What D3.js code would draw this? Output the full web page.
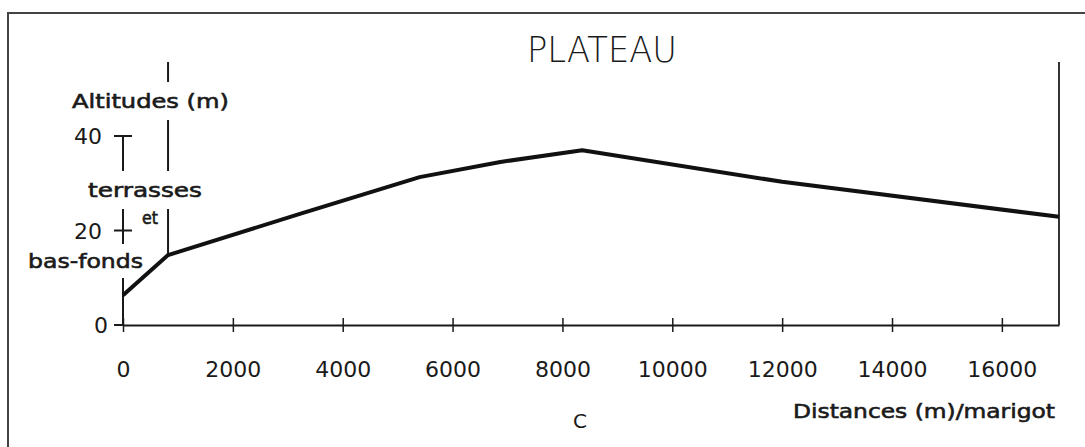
<!DOCTYPE html>
<html lang="fr">
<head>
<meta charset="UTF-8">
<title>Profil - Plateau</title>
<script src="https://cdn.jsdelivr.net/npm/d3@7"></script>
<style>
  body { margin: 0; background: #fff; }
  svg text { font-family: "DejaVu Sans", sans-serif; fill: #1a1a1a; }
  svg text.heavy { stroke: #1a1a1a; stroke-width: 0.6px; }
</style>
</head>
<body>
<svg id="chart" width="1085" height="447"></svg>
<script>
// profile: distance (m) / altitude (m)
var distances = [0, 820, 3220, 5400, 6870, 8360, 12000, 17040];
var altitudes = [6.3, 14.8, 23.5, 31.3, 34.5, 37.0, 30.3, 22.9];
var xTicks = [0, 2000, 4000, 6000, 8000, 10000, 12000, 14000, 16000];
var yTicks = [0, 20, 40];
var limitDistance = 820; // terrasses / plateau boundary
var title = "PLATEAU";
var yTitle = "Altitudes (m)";
var xTitle = "Distances (m)/marigot";
var panelLetter = "C";

var svg = d3.select("#chart");
var ink = "#1a1a1a";

var x = d3.scaleLinear().domain([0, 17040]).range([123, 1059]);
var y = d3.scaleLinear().domain([0, 40]).range([325, 136]);

// frame (left and top edges only visible)
svg.append("path")
  .attr("d", "M8,447V13H1085")
  .attr("fill", "none").attr("stroke", "#444").attr("stroke-width", 2);

// x axis, ticks crossing the line
var xAxis = svg.append("g")
  .attr("transform", "translate(0," + y(0) + ")")
  .call(d3.axisBottom(x).tickValues(xTicks).tickSize(7).tickSizeOuter(0).tickFormat(d3.format("d")));
xAxis.select(".domain").attr("stroke", ink).attr("stroke-width", 2);
xAxis.selectAll(".tick line").attr("y1", -7).attr("stroke", ink).attr("stroke-width", 1.5);
xAxis.selectAll(".tick text")
  .attr("y", 52).attr("dy", null)
  .style("font-size", "22px").attr("fill", ink);

// y axis line and ticks (drawn manually: interrupted by labels)
var gy = svg.append("g");
gy.append("line")
  .attr("x1", x(0)).attr("x2", x(0))
  .attr("y1", y(0)).attr("y2", y(40))
  .attr("stroke", ink).attr("stroke-width", 2);
gy.selectAll("line.ytick").data(yTicks).enter().append("line")
  .attr("class", "ytick")
  .attr("x1", function(d) { return x(0) - 9; })
  .attr("x2", function(d) { return d === 0 ? x(0) : x(0) + 9; })
  .attr("y1", function(d) { return y(d); })
  .attr("y2", function(d) { return y(d); })
  .attr("stroke", ink).attr("stroke-width", 2);
gy.selectAll("text.ylab").data(yTicks).enter().append("text")
  .attr("class", "ylab")
  .attr("x", function(d) { return d === 0 ? 108 : 102; })
  .attr("y", function(d) { return y(d) + 8; })
  .attr("text-anchor", "end")
  .style("font-size", "22px")
  .text(function(d) { return d; });

// right closing line at end of profile
svg.append("line")
  .attr("x1", x(17040)).attr("x2", x(17040))
  .attr("y1", 62).attr("y2", y(0))
  .attr("stroke", "#333").attr("stroke-width", 2);

// boundary line terrasses / plateau
svg.append("line")
  .attr("x1", x(limitDistance)).attr("x2", x(limitDistance))
  .attr("y1", 62).attr("y2", y(altitudes[1]))
  .attr("stroke", ink).attr("stroke-width", 2);

// labels with white knock-out behind them
function label(txt, lx, ly, size, len, pad) {
  var g = svg.append("g");
  var t = g.append("text")
    .attr("class", "heavy")
    .attr("x", lx).attr("y", ly)
    .style("font-size", size + "px")
    .attr("textLength", len).attr("lengthAdjust", "spacingAndGlyphs")
    .text(txt);
  if (pad) {
    var b = t.node().getBBox();
    g.insert("rect", "text")
      .attr("x", b.x - 2).attr("y", b.y - pad)
      .attr("width", b.width + 4).attr("height", b.height + 2 * pad)
      .attr("fill", "#fff");
  }
  return t;
}
label(yTitle, 72, 108, 20, 157, 7);
label("terrasses", 88, 197, 20, 114, 7);
label("et", 142, 224, 17, 16, 0);
label("bas-fonds", 28, 268, 20, 115, 5);

// profile line
var line = d3.line()
  .x(function(d, i) { return x(distances[i]); })
  .y(function(d) { return y(d); });
svg.append("path")
  .datum(altitudes)
  .attr("d", line)
  .attr("fill", "none")
  .attr("stroke", "#111")
  .attr("stroke-width", 4)
  .attr("stroke-linejoin", "round");

// title, axis title, panel letter
svg.append("text")
  .attr("x", 527).attr("y", 62)
  .style("font-size", "36px").style("font-weight", 200)
  .attr("textLength", 150).attr("lengthAdjust", "spacingAndGlyphs")
  .text(title);
label(xTitle, 793, 418, 20, 262, 0);
svg.append("text")
  .attr("x", 580).attr("y", 428)
  .attr("text-anchor", "middle")
  .style("font-size", "20px")
  .text(panelLetter);
</script>
</body>
</html>
